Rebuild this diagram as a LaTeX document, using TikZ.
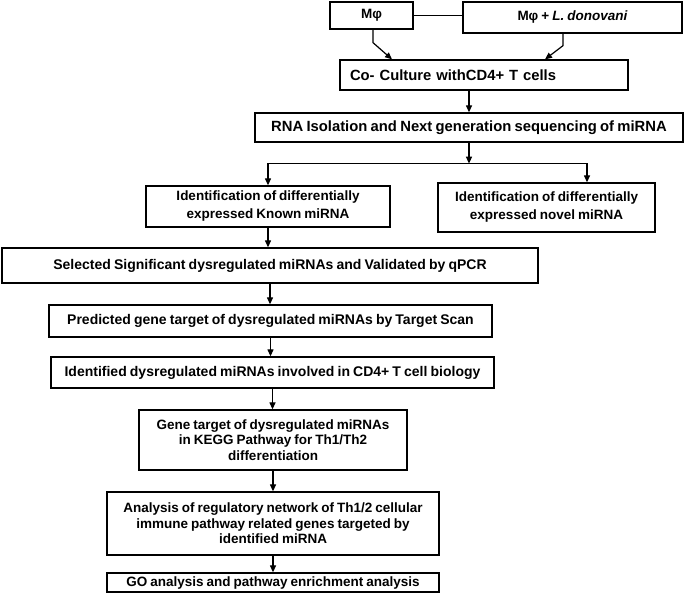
\documentclass[tikz,border=0pt]{standalone}
\usepackage{fontspec}
\setmainfont{Liberation Sans}[WordSpace=0.8]
\usetikzlibrary{arrows.meta, positioning, calc}

\begin{document}
\begin{tikzpicture}[
  x=1pt, y=-1pt,
  >={Triangle[length=7pt,width=6pt]},
  box/.style={draw, rectangle, line width=1.3pt, inner sep=0pt, font=\fontsize{13.5}{15.5}\selectfont\bfseries, align=center},
  widebox/.style={box, font=\fontsize{13.5}{18}\selectfont\bfseries},
  topbox/.style={box, font=\fontsize{14.8}{17}\selectfont\bfseries},
  chainbox/.style={box, font=\fontsize{14}{16}\selectfont\bfseries},
  flow/.style={->, line width=1.2pt},
  link/.style={line width=1.2pt}
]
\useasboundingbox (0,0) rectangle (685,595);

% Cells at the top
\node[box, minimum width=83pt,  minimum height=27pt] (mphi)  at (371.5,15.5) {Mφ};
\node[box, minimum width=219pt, minimum height=31pt] (mphiL) at (572.5,17.5) {Mφ + \textit{L. donovani}};
\node[topbox, minimum width=288pt, minimum height=30pt, text width=268pt, align=left] (cocult) at (484,75) {Co- Culture withCD4+ T cells};

% Sequencing and the two branches
\node[topbox, minimum width=428pt, minimum height=29pt] (rna) at (469,127.5) {RNA Isolation and Next generation sequencing of miRNA};
\coordinate (split) at ([yshift=-21pt]rna.south);
\node[widebox, minimum width=244pt, minimum height=41pt] (known) at (268,206.5) {Identification of differentially\\expressed Known miRNA};
\node[widebox, minimum width=217pt, minimum height=49pt] (novel) at (546.5,207.5) {Identification of differentially\\expressed novel miRNA};

% Main chain
\node[chainbox, minimum width=536pt, minimum height=35pt] (sel)   at (270,265.5) {Selected Significant dysregulated miRNAs and Validated by qPCR};
\node[chainbox, minimum width=443pt, minimum height=32pt] (pred)  at (270.5,321) {Predicted gene target of dysregulated miRNAs by Target Scan};
\node[chainbox, minimum width=443pt, minimum height=31pt] (ident) at (272.5,372.5) {Identified dysregulated miRNAs involved in CD4+ T cell biology};
\node[box, minimum width=268pt, minimum height=60pt] (gene)  at (273,440) {Gene target of dysregulated miRNAs\\in KEGG Pathway for Th1/Th2\\differentiation};
\node[box, minimum width=332pt, minimum height=63pt] (anal)  at (273,523.5) {Analysis of regulatory network of Th1/2 cellular\\immune pathway related genes targeted by\\identified miRNA};
\node[box, minimum width=332pt, minimum height=19pt] (go)    at (273,582.5) {GO analysis and pathway enrichment analysis};

% Flows
\draw[link] (mphi.east) -- (mphi.east -| mphiL.west);
\draw[flow] ([xshift=1.5pt]mphi.south) -- ++(0,13) -- ([xshift=-92pt]cocult.north);
\draw[flow] ([xshift=-9.5pt]mphiL.south) -- ++(0,12) -- ([xshift=61pt]cocult.north);
\draw[flow] (cocult.south -| rna.north) -- (rna.north);

\draw[flow] (rna.south) -- (split);
\draw[flow] (split) -| (known.north);
\draw[flow] (split) -| ([xshift=40.5pt]novel.north);

\draw[flow] (known.south) -- (known.south |- sel.north);
\draw[flow] (sel.south) -- (sel.south |- pred.north);
\draw[flow] (pred.south) -- (pred.south |- ident.north);
\draw[flow] (ident.south) -- (ident.south |- gene.north);
\draw[flow] (gene.south) -- (anal.north);
\draw[flow] (anal.south) -- (go.north);
\end{tikzpicture}
\end{document}
